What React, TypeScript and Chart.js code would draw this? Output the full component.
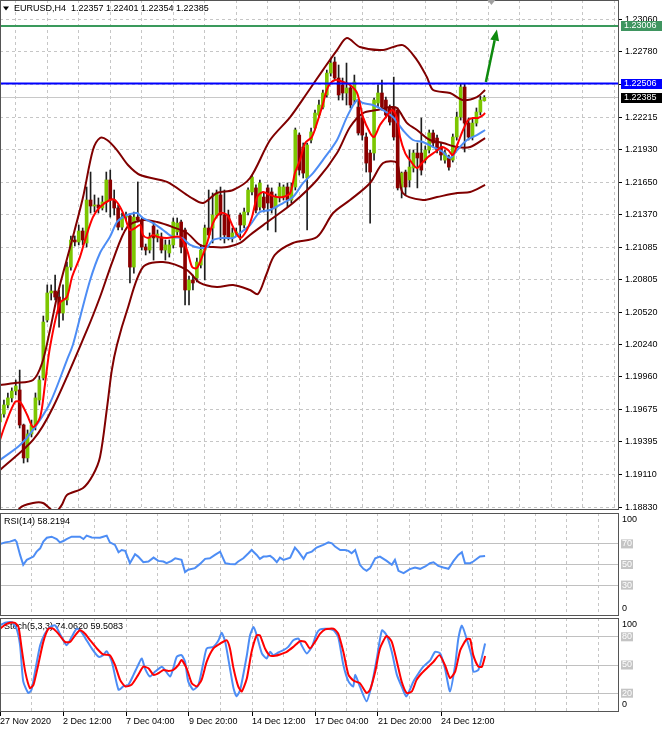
import React, { useEffect, useRef } from 'react';
import { Chart, registerables } from 'chart.js';

Chart.register(...registerables);

const FONT = '"Liberation Sans", Arial, sans-serif';
const W = 665;
const AXIS_W = 46;
const BAR_PX = 3.9375;
const X_MAX = (W - AXIS_W) / BAR_PX;

// ---------- EURUSD H4 candles ----------
const barOpen = [1.19568,1.19637,1.19716,1.19777,1.19837,1.19846,1.19542,1.19256,1.19464,1.19542,1.19759,1.19950,1.20453,1.20688,1.20705,1.20653,1.20514,1.20627,1.20913,1.21148,1.21131,1.21226,1.21122,1.21495,1.21443,1.21452,1.21426,1.21478,1.21669,1.21495,1.21426,1.21260,1.21347,1.21356,1.20913,1.21347,1.21321,1.21087,1.21061,1.21269,1.21166,1.21174,1.21061,1.21035,1.21105,1.21218,1.21304,1.21235,1.20714,1.20801,1.20818,1.20931,1.21061,1.21252,1.21252,1.21365,1.21539,1.21365,1.21365,1.21174,1.21209,1.21365,1.21278,1.21391,1.21565,1.21600,1.21434,1.21521,1.21600,1.21565,1.21426,1.21521,1.21521,1.21608,1.21495,1.21608,1.22059,1.21955,1.21686,1.22016,1.22120,1.22233,1.22302,1.22407,1.22597,1.22693,1.22554,1.22494,1.22424,1.22468,1.22363,1.22302,1.22207,1.22042,1.21903,1.21903,1.22337,1.22424,1.22363,1.22294,1.22294,1.22276,1.21608,1.21738,1.21669,1.21773,1.21903,1.21903,1.21842,1.21929,1.22077,1.22033,1.21955,1.21842,1.21860,1.21842,1.22042,1.22215,1.22476,1.22163,1.22042,1.22163,1.22259,1.22357];
const barHigh = [1.19672,1.19759,1.19820,1.19864,1.19933,1.20019,1.19550,1.19499,1.19585,1.19820,1.19967,1.20488,1.20758,1.20758,1.20844,1.20714,1.20758,1.20957,1.21183,1.21183,1.21278,1.21252,1.21608,1.21738,1.21539,1.21513,1.21530,1.21738,1.21755,1.21582,1.21452,1.21382,1.21391,1.21373,1.21391,1.21652,1.21339,1.21113,1.21209,1.21304,1.21235,1.21209,1.21148,1.21148,1.21339,1.21339,1.21321,1.21252,1.20835,1.20844,1.20992,1.21105,1.21278,1.21582,1.21556,1.21582,1.21608,1.21582,1.21408,1.21252,1.21252,1.21382,1.21426,1.21600,1.21712,1.21626,1.21669,1.21556,1.21626,1.21600,1.21547,1.21643,1.21626,1.21643,1.21643,1.22120,1.22077,1.21990,1.21990,1.22120,1.22276,1.22363,1.22450,1.22623,1.22728,1.22736,1.22667,1.22554,1.22684,1.22494,1.22580,1.22363,1.22233,1.22077,1.21929,1.22381,1.22494,1.22537,1.22389,1.22320,1.22562,1.22294,1.21738,1.21755,1.21929,1.21929,1.21990,1.22207,1.21964,1.22103,1.22103,1.22059,1.21990,1.21929,1.21886,1.22068,1.22259,1.22502,1.22502,1.22207,1.22207,1.22294,1.22398,1.22401];
const barLow = [1.19533,1.19611,1.19690,1.19742,1.19803,1.19516,1.19212,1.19221,1.19438,1.19499,1.19716,1.19933,1.20436,1.20627,1.20627,1.20392,1.20453,1.20584,1.20887,1.21096,1.21105,1.21105,1.21087,1.21382,1.21391,1.21382,1.21408,1.21391,1.21347,1.21365,1.21235,1.21235,1.21321,1.20775,1.20861,1.21304,1.21061,1.21018,1.21035,1.20974,1.21131,1.21035,1.20974,1.21000,1.21079,1.21192,1.21035,1.20584,1.20584,1.20714,1.20784,1.20905,1.20801,1.21166,1.21122,1.21339,1.21148,1.21122,1.21148,1.21131,1.21183,1.21148,1.21252,1.21365,1.21539,1.21382,1.21408,1.21391,1.21235,1.21382,1.21218,1.21478,1.21495,1.21434,1.21469,1.21582,1.21712,1.21686,1.21235,1.21990,1.22103,1.22215,1.22285,1.22389,1.22571,1.22537,1.22363,1.22363,1.22320,1.22294,1.22337,1.22059,1.22016,1.21738,1.21295,1.21842,1.22302,1.22276,1.22207,1.22146,1.22016,1.21582,1.21513,1.21539,1.21608,1.21738,1.21600,1.21712,1.21816,1.21903,1.21955,1.21903,1.21842,1.21816,1.21755,1.21825,1.22016,1.22189,1.21912,1.22016,1.22016,1.22137,1.22233,1.22354];
const barClose = [1.19637,1.19716,1.19777,1.19837,1.19881,1.19542,1.19256,1.19464,1.19542,1.19777,1.19933,1.20436,1.20688,1.20705,1.20653,1.20514,1.20627,1.20913,1.21148,1.21131,1.21226,1.21148,1.21495,1.21443,1.21452,1.21426,1.21478,1.21669,1.21495,1.21426,1.21260,1.21347,1.21356,1.20913,1.21347,1.21321,1.21087,1.21061,1.21174,1.21166,1.21200,1.21061,1.21105,1.21105,1.21304,1.21295,1.21087,1.20714,1.20801,1.20775,1.20957,1.21061,1.21252,1.21192,1.21365,1.21556,1.21365,1.21192,1.21174,1.21209,1.21218,1.21278,1.21391,1.21582,1.21694,1.21408,1.21643,1.21426,1.21469,1.21426,1.21521,1.21608,1.21608,1.21495,1.21608,1.22103,1.21755,1.21729,1.21973,1.22086,1.22250,1.22320,1.22424,1.22597,1.22684,1.22554,1.22407,1.22424,1.22468,1.22320,1.22520,1.22077,1.22059,1.21816,1.21738,1.22363,1.22424,1.22302,1.22233,1.22172,1.22042,1.21600,1.21729,1.21608,1.21781,1.21903,1.21860,1.21755,1.21929,1.22077,1.21990,1.21929,1.21886,1.21903,1.21781,1.22042,1.22215,1.22476,1.22163,1.22042,1.22163,1.22259,1.22363,1.22385];

// ---------- indicator lines (bar index, price) ----------
const redMaX = [0,1.3,3.8,5.1,6.9,8.4,10.2,11.4,12.7,15.2,17.0,18.3,20.3,21.6,23.6,25.4,27.9,29.2,30.5,31.7,33.0,34.3,35.6,36.3,37.6,38.9,40.1,42.4,45.7,47.5,48.8,50.0,51.3,52.6,54.1,55.9,57.7,59.2,61.0,62.7,64.0,65.3,66.8,68.6,70.3,71.9,73.7,74.9,76.2,77.5,79.2,80.5,81.8,83.3,85.1,87.1,88.9,90.7,92.2,94.0,95.0,96.5,98.0,99.6,100.8,101.6,102.9,104.1,105.9,107.2,108.7,110.5,112.3,113.8,115.0,116.3,117.6,118.9,120.1,121.4,122.7,123.2];
const redMaY = [1.19412,1.19542,1.19742,1.19742,1.19629,1.19525,1.19611,1.19889,1.20219,1.20601,1.20653,1.20827,1.21000,1.21148,1.21347,1.21434,1.21495,1.21495,1.21434,1.21347,1.21235,1.21252,1.21278,1.21192,1.21166,1.21192,1.21174,1.21166,1.21174,1.21061,1.20913,1.20905,1.21000,1.21122,1.21295,1.21382,1.21365,1.21260,1.21166,1.21235,1.21347,1.21521,1.21565,1.21539,1.21521,1.21521,1.21556,1.21729,1.21842,1.21990,1.22042,1.22163,1.22302,1.22476,1.22537,1.22520,1.22494,1.22424,1.22215,1.22077,1.22042,1.22146,1.22215,1.22276,1.22207,1.22042,1.21903,1.21842,1.21773,1.21816,1.21868,1.21912,1.21955,1.21929,1.21886,1.21990,1.22103,1.22189,1.22207,1.22207,1.22233,1.22250];
const blueMaX = [0,5.1,8.4,12.7,17.0,18.5,20.3,22.9,25.4,27.9,29.7,31.2,33.0,34.8,36.3,38.9,41.4,43.9,46.2,48.3,50.8,52.6,54.1,56.6,59.2,61.0,63.5,66.0,68.6,71.9,74.4,77.0,79.5,82.0,85.6,88.1,90.7,92.2,94.7,97.3,99.8,102.3,104.9,107.4,110.0,112.5,114.3,116.1,118.6,121.1,123.2];
const blueMaY = [1.19238,1.19368,1.19499,1.19733,1.20106,1.20237,1.20471,1.20801,1.21035,1.21174,1.21304,1.21347,1.21373,1.21382,1.21339,1.21295,1.21235,1.21174,1.21166,1.21105,1.21079,1.21087,1.21148,1.21166,1.21166,1.21209,1.21278,1.21391,1.21408,1.21469,1.21521,1.21643,1.21729,1.21842,1.22016,1.22215,1.22363,1.22337,1.22320,1.22276,1.22215,1.22103,1.22016,1.21999,1.21955,1.21912,1.21860,1.21929,1.22016,1.22059,1.22103];
const bbUpX = [0,3.8,8.4,10.7,12.7,14.7,18.3,21.1,23.6,25.4,27.2,29.7,32.5,35.6,42.4,48.3,51.6,55.1,59.2,63.5,68.6,73.7,78.0,82.0,85.6,88.1,91.4,97.3,102.3,105.9,108.4,110.0,114.3,117.6,121.1,123.2];
const bbUpY = [1.19889,1.19906,1.19933,1.20080,1.20367,1.20688,1.21148,1.21521,1.21929,1.22033,1.22016,1.21929,1.21799,1.21712,1.21652,1.21521,1.21469,1.21556,1.21582,1.21686,1.22016,1.22215,1.22424,1.22623,1.22797,1.22901,1.22823,1.22797,1.22840,1.22710,1.22563,1.22450,1.22424,1.22363,1.22389,1.22450];
const bbMidX = [0,8.4,13.5,22.1,25.4,28.7,32.3,36.3,39.9,43.9,47.5,50.8,54.1,57.7,61.0,63.5,68.6,74.4,80.5,85.6,88.9,92.2,95.7,99.0,100.8,103.4,105.9,109.2,112.5,116.1,119.4,123.2];
const bbMidY = [1.19151,1.19412,1.19698,1.20367,1.20653,1.20974,1.21260,1.21321,1.21304,1.21260,1.21209,1.21105,1.21087,1.21087,1.21122,1.21192,1.21321,1.21469,1.21669,1.21903,1.22129,1.22250,1.22276,1.22302,1.22294,1.22163,1.22103,1.22016,1.21990,1.21955,1.21955,1.22033];
const bbLowX = [0,5.1,8.4,10.9,14.0,15.7,17.0,21.1,23.6,25.4,27.2,28.4,29.7,32.3,36.3,41.4,47.5,50.8,55.1,59.2,63.5,65.5,67.6,69.8,74.4,80.5,84.6,88.9,94.0,97.3,100.8,102.3,107.4,111.0,116.1,119.4,123.2];
const bbLowY = [1.18544,1.18822,1.18865,1.18865,1.18787,1.18848,1.18934,1.18995,1.19108,1.19264,1.19698,1.20019,1.20237,1.20540,1.20913,1.20957,1.20887,1.20775,1.20740,1.20758,1.20714,1.20679,1.20844,1.21018,1.21122,1.21174,1.21382,1.21495,1.21643,1.21816,1.21816,1.21556,1.21495,1.21521,1.21556,1.21565,1.21626];

// ---------- levels & arrow ----------
const greenLevel = 1.23006;
const blueLevel = 1.22506;
const arrowX = [123.4, 126.2];
const arrowY = [1.22519, 1.22975];

// ---------- RSI(14) ----------
const rsiX = [0,1.3,2.5,3.8,4.2,5.1,5.9,6.8,8.5,9.3,10.2,11.0,11.9,13.1,14.4,15.2,16.1,16.9,18.2,20.3,21.2,22.0,23.3,25.4,26.2,27.1,27.9,29.2,30.1,30.9,31.8,33.0,34.3,35.1,36.4,37.7,39.0,40.2,41.5,42.3,43.6,44.5,46.1,47.0,47.8,49.5,50.8,52.1,53.3,54.6,55.9,57.2,58.4,59.7,60.5,61.8,63.1,63.9,65.2,66.0,66.9,67.7,68.6,69.4,70.3,71.1,72.0,73.7,74.9,75.8,77.1,77.9,79.2,80.4,82.1,83.4,84.3,85.1,86.4,87.6,88.5,89.3,90.2,91.4,92.3,93.1,94.0,95.3,96.5,98.2,99.5,100.3,101.2,102.5,104.1,105.4,106.7,108.0,109.2,110.1,111.3,112.6,113.9,115.2,116.4,117.3,118.1,119.4,120.2,121.9,123.2];
const rsiY = [69.9,71.5,72.2,73.8,72.2,59.3,49.7,54.5,57.7,62.5,65.7,72.2,76.0,77.0,74.7,71.5,72.8,74.7,77.0,77.0,74.7,78.0,76.3,76.0,77.0,78.0,71.5,69.0,61.9,64.1,63.2,51.3,59.9,57.7,52.2,52.9,56.7,53.5,52.9,51.3,53.5,56.1,54.5,42.6,44.9,46.5,50.6,55.5,56.1,59.3,62.5,51.3,50.6,50.3,52.9,56.1,60.9,64.1,59.3,55.5,57.7,57.7,58.4,56.1,52.2,56.7,54.5,56.7,66.4,62.5,55.5,60.9,62.5,66.4,69.0,71.5,70.6,67.4,64.1,64.1,63.2,60.9,64.1,49.7,45.8,43.9,46.5,56.1,57.7,53.5,49.7,54.5,43.9,41.6,45.5,47.1,45.8,48.1,51.3,52.2,48.7,47.1,45.8,53.5,59.3,61.9,51.3,51.3,52.9,57.7,58.2];
const rsiLevels = [30, 50, 70];
const rsiTitle = 'RSI(14) 58.2194';

// ---------- Stochastic (5,3,3) ----------
const stochKX = [0,1.3,3.0,4.2,5.1,5.9,7.2,8.0,8.9,10.2,11.4,12.7,14.0,15.2,16.9,18.2,19.5,20.7,22.0,23.3,25.0,26.2,27.1,28.4,30.1,31.3,32.6,33.9,35.1,36.0,36.8,38.1,39.4,41.1,41.9,43.2,44.0,44.9,46.1,47.0,47.8,49.1,50.4,51.7,52.5,54.2,55.5,56.3,57.2,58.4,59.3,60.1,61.0,62.7,63.5,64.4,65.2,66.5,67.7,68.6,69.4,70.7,72.0,73.2,74.5,75.8,76.6,77.9,79.2,80.4,81.3,83.0,84.7,85.9,87.2,88.5,89.7,90.2,91.4,93.1,94.4,95.7,97.0,98.2,99.5,100.8,102.0,103.2,105.0,106.3,107.5,109.3,110.5,111.8,113.0,114.3,115.6,116.4,117.3,118.5,119.8,120.2,121.5,123.2];
const stochKY = [92.1,94.9,95.6,88.6,71.0,32.5,20.2,23.7,43.0,71.0,83.3,90.4,92.1,83.3,71.0,79.8,88.6,85.1,76.3,67.6,58.8,60.5,64.7,53.5,23.7,27.2,28.9,39.5,50.0,57.0,46.5,37.7,43.0,48.2,44.7,37.7,46.5,58.8,60.5,53.5,32.5,23.7,28.9,53.5,67.6,69.3,76.3,84.4,74.6,46.5,25.4,16.6,23.7,60.5,81.6,90.4,81.6,62.3,57.0,64.0,60.5,63.3,65.8,69.3,76.3,78.1,71.0,62.3,69.3,83.3,87.9,88.6,86.9,79.8,50.0,32.5,27.2,39.5,27.2,11.4,28.9,57.0,86.9,81.6,64.0,39.5,27.2,16.6,32.5,41.2,48.2,55.3,64.0,62.3,46.5,21.9,50.0,78.1,92.1,78.1,58.8,43.0,44.7,72.8];
const stochDX = [0,1.3,2.5,3.8,4.7,5.5,6.4,7.6,8.5,9.7,11.0,12.3,13.5,14.8,16.5,17.8,19.1,20.3,21.6,22.9,24.6,26.2,27.9,29.2,30.5,31.8,33.4,35.1,36.4,37.7,39.0,40.2,41.5,42.8,44.0,45.3,46.1,47.4,48.7,50.0,51.2,52.5,54.2,55.9,57.6,58.4,59.3,60.5,61.4,62.7,63.9,65.2,66.0,67.3,68.6,69.9,71.1,72.8,74.5,76.2,77.5,78.7,80.0,81.3,82.6,84.7,85.9,87.2,88.5,89.8,91.4,93.1,94.0,95.3,96.5,98.2,99.5,100.8,102.0,103.3,104.6,105.8,107.1,108.8,110.1,111.6,113.0,114.3,115.6,116.9,118.5,119.4,120.2,121.5,122.4,123.2];
const stochDY = [88.6,92.8,94.9,94.9,90.4,67.6,43.0,25.4,28.9,50.0,74.6,88.6,88.6,83.3,74.6,74.6,81.6,86.9,83.3,76.3,67.6,61.2,60.5,50.0,34.2,27.2,28.9,39.5,48.2,46.5,39.5,41.2,44.7,43.7,44.7,50.0,55.3,46.5,30.7,27.2,34.2,53.5,67.6,72.8,76.3,67.6,46.5,27.2,21.9,36.0,64.0,81.6,81.6,67.6,59.8,59.8,61.2,64.0,69.3,75.3,74.6,67.6,74.6,83.3,87.9,88.6,83.3,64.0,39.5,33.2,30.7,20.2,23.7,43.0,67.6,80.9,74.6,53.5,32.5,20.2,21.9,34.2,41.2,48.2,53.5,60.5,50.0,36.0,43.0,65.8,77.4,77.4,60.5,48.2,48.2,59.5];
const stochLevels = [20, 50, 80];
const stochTitle = 'Stoch(5,3,3) 74.0620 59.5083';

// ---------- axes ----------
const priceTicks = [1.23060,1.22780,1.22495,1.22215,1.21930,1.21650,1.21370,1.21085,1.20805,1.20520,1.20240,1.19960,1.19675,1.19395,1.19110,1.18830];
const Y_MIN = 1.188041;
const Y_MAX = 1.232314;
const gridIdx = [0,8,16,24,32,40,48,56,64,72,80,88,96,104,112,120,128,136,144,152];
const timeLabelIdx = [0,16,32,48,64,80,96,112];
const timeLabels = ['27 Nov 2020','2 Dec 12:00','7 Dec 04:00','9 Dec 20:00','14 Dec 12:00','17 Dec 04:00','21 Dec 20:00','24 Dec 12:00'];
const symbolTitle = 'EURUSD,H4';

// ---------- styles ----------
const GRID = '#c6c6c6';
const FRAME = '#555555';
const MAROON = '#800000';
const RED = '#ff0000';
const BLUE = '#4d8df5';
const BULL = '#7cc600';
const BEAR = '#8b0000';
const WICK = '#1e1e1e';
const LEVEL_LINE = '#c0c0c0';
const LEVEL_BOX = '#c4c4c4';

const lineDs = (label: string, xs: number[], ys: number[], color: string, order: number, width = 2, tension = 0.3) => ({
  type: 'line' as const,
  label,
  data: xs.map((x, i) => ({ x, y: ys[i] })),
  borderColor: color,
  backgroundColor: color,
  borderWidth: width,
  pointRadius: 0,
  tension,
  fill: false,
  order,
});

const xScale = (withLabels: boolean): any => ({
  type: 'linear',
  min: 0,
  max: X_MAX,
  offset: false,
  afterBuildTicks: (s: any) => { s.ticks = gridIdx.map((v) => ({ value: v })); },
  afterFit: (s: any) => { s.height = withLabels ? 22 : 0; s.paddingLeft = 0; s.paddingRight = 0; },
  grid: {
    color: GRID,
    lineWidth: 1,
    drawTicks: withLabels,
    tickLength: 4,
    tickWidth: 1,
    tickColor: (c: any) => (c.tick && timeLabelIdx.includes(c.tick.value) ? '#000000' : 'rgba(0,0,0,0)'),
    tickBorderDash: [],
  },
  border: { display: false, dash: [3, 3] },
  ticks: withLabels
    ? {
        autoSkip: false,
        maxRotation: 0,
        minRotation: 0,
        align: 'start',
        padding: 0,
        font: { family: FONT, size: 9 },
        color: '#000000',
        callback: (v: any) => {
          const k = timeLabelIdx.indexOf(Number(v));
          return k >= 0 ? timeLabels[k] : '';
        },
      }
    : { display: false },
});

const levelScale = (levels: number[]): any => ({
  type: 'linear',
  position: 'right',
  min: 0,
  max: 100,
  afterBuildTicks: (s: any) => { s.ticks = [0, ...levels, 100].map((v) => ({ value: v })); },
  afterFit: (s: any) => { s.width = AXIS_W; s.paddingTop = 0; s.paddingBottom = 0; },
  ticks: {
    autoSkip: false,
    padding: 3,
    font: { family: FONT, size: 9, lineHeight: 1 },
    color: '#ffffff',
    showLabelBackdrop: (c: any) => !!(c.tick && levels.includes(c.tick.value)),
    backdropColor: LEVEL_BOX,
    backdropPadding: { top: 0, bottom: 0, left: 1, right: 1 },
    callback: (v: any) => (levels.includes(Number(v)) ? String(v) : ''),
  },
  grid: {
    color: (c: any) => (c.tick && levels.includes(c.tick.value) ? LEVEL_LINE : 'rgba(0,0,0,0)'),
    drawTicks: false,
  },
  border: { display: false },
});

const framePlugin = {
  id: 'frame',
  afterDraw(chart: any) {
    const { ctx, chartArea: a } = chart;
    ctx.save();
    ctx.strokeStyle = FRAME;
    ctx.lineWidth = 1;
    ctx.strokeRect(a.left + 0.5, a.top + 0.5, a.right - a.left - 1, a.bottom - a.top - 1);
    ctx.restore();
  },
};

const panelTextPlugin = (title: string) => ({
  id: 'panelText',
  beforeDatasetsDraw(chart: any) {
    const { ctx, chartArea: a } = chart;
    ctx.save();
    ctx.font = `9px ${FONT}`;
    ctx.fillStyle = '#000000';
    ctx.textBaseline = 'middle';
    ctx.textAlign = 'left';
    ctx.fillText(title, a.left + 4, a.top + 9);
    ctx.restore();
  },
  afterDraw(chart: any) {
    const { ctx, chartArea: a } = chart;
    const ys = chart.scales.y;
    ctx.save();
    ctx.font = `9px ${FONT}`;
    ctx.fillStyle = '#000000';
    ctx.textBaseline = 'middle';
    ctx.textAlign = 'left';
    ctx.fillText(String(ys.max), a.right + 3, a.top + 7);
    ctx.fillText(String(ys.min), a.right + 3, a.bottom - 7);
    ctx.restore();
  },
});

const mainPlugin = {
  id: 'mainDecor',
  afterDraw(chart: any) {
    const { ctx, chartArea: a } = chart;
    const xs = chart.scales.x;
    const ys = chart.scales.y;
    ctx.save();
    // arrow
    const x1 = xs.getPixelForValue(arrowX[0]);
    const y1 = ys.getPixelForValue(arrowY[0]);
    const x2 = xs.getPixelForValue(arrowX[1]);
    const y2 = ys.getPixelForValue(arrowY[1]);
    const ang = Math.atan2(y2 - y1, x2 - x1);
    const head = 11;
    const bx = x2 - head * Math.cos(ang);
    const by = y2 - head * Math.sin(ang);
    ctx.strokeStyle = '#0e8a0e';
    ctx.fillStyle = '#0e8a0e';
    ctx.lineWidth = 2.5;
    ctx.beginPath();
    ctx.moveTo(x1, y1);
    ctx.lineTo(bx, by);
    ctx.stroke();
    ctx.beginPath();
    ctx.moveTo(x2, y2);
    ctx.lineTo(bx + 4.5 * Math.sin(ang), by - 4.5 * Math.cos(ang));
    ctx.lineTo(bx - 4.5 * Math.sin(ang), by + 4.5 * Math.cos(ang));
    ctx.closePath();
    ctx.fill();
    // shift marker
    const sx = xs.getPixelForValue(124.8);
    ctx.fillStyle = '#a0a0a0';
    ctx.beginPath();
    ctx.moveTo(sx - 4, a.top);
    ctx.lineTo(sx + 4, a.top);
    ctx.lineTo(sx, a.top + 5);
    ctx.closePath();
    ctx.fill();
    // header
    ctx.fillStyle = '#000000';
    ctx.beginPath();
    ctx.moveTo(3, 6.5);
    ctx.lineTo(9, 6.5);
    ctx.lineTo(6, 10.5);
    ctx.closePath();
    ctx.fill();
    const last = barClose.length - 1;
    ctx.font = `9px ${FONT}`;
    ctx.textBaseline = 'middle';
    ctx.textAlign = 'left';
    ctx.fillText(
      `${symbolTitle}  ${barOpen[last].toFixed(5)} ${barHigh[last].toFixed(5)} ${barLow[last].toFixed(5)} ${barClose[last].toFixed(5)}`,
      14, 9
    );
    // price boxes
    const box = (v: number, bg: string) => {
      const y = Math.round(ys.getPixelForValue(v));
      ctx.fillStyle = bg;
      ctx.fillRect(a.right + 2, y - 5, 41, 10);
      ctx.fillStyle = '#ffffff';
      ctx.fillText(v.toFixed(5), a.right + 5, y);
    };
    box(greenLevel, '#3f9560');
    box(blueLevel, '#0000ff');
    box(barClose[last], '#000000');
    ctx.restore();
  },
};

export default function App() {
  const mainRef = useRef<HTMLCanvasElement>(null);
  const rsiRef = useRef<HTMLCanvasElement>(null);
  const stoRef = useRef<HTMLCanvasElement>(null);

  useEffect(() => {
    const charts: Chart[] = [];
    const common: any = {
      responsive: false,
      animation: false,
      devicePixelRatio: 1,
      events: [],
      plugins: { legend: { display: false }, tooltip: { enabled: false }, title: { display: false } },
    };

    if (mainRef.current) {
      charts.push(
        new Chart(mainRef.current, {
          type: 'line',
          data: {
            datasets: [
              lineDs('resistance', [0, X_MAX], [greenLevel, greenLevel], '#3a9a5c', 0, 2, 0),
              lineDs('level', [0, X_MAX], [blueLevel, blueLevel], '#0000ff', 0, 2, 0),
              lineDs('fast MA', redMaX, redMaY, RED, 1),
              lineDs('slow MA', blueMaX, blueMaY, BLUE, 2),
              lineDs('BB upper', bbUpX, bbUpY, MAROON, 3),
              lineDs('BB middle', bbMidX, bbMidY, MAROON, 3),
              lineDs('BB lower', bbLowX, bbLowY, MAROON, 3),
              {
                type: 'bar',
                label: 'body',
                data: barClose.map((c, i) => ({ x: i, y: [barOpen[i], c] })),
                backgroundColor: barClose.map((c, i) => (c >= barOpen[i] ? BULL : BEAR)),
                barThickness: 3,
                grouped: false,
                order: 8,
              } as any,
              {
                type: 'bar',
                label: 'wick',
                data: barHigh.map((h, i) => ({ x: i, y: [barLow[i], h] })),
                backgroundColor: WICK,
                barThickness: 1,
                grouped: false,
                order: 9,
              } as any,
              lineDs('price', [0, X_MAX], [barClose[barClose.length - 1], barClose[barClose.length - 1]], '#c8c8c8', 10, 1, 0),
            ],
          },
          options: {
            ...common,
            layout: { padding: { left: 0, right: 0, top: 0, bottom: 1 } },
            scales: {
              x: xScale(false),
              y: {
                type: 'linear',
                position: 'right',
                min: Y_MIN,
                max: Y_MAX,
                afterBuildTicks: (s: any) => { s.ticks = priceTicks.map((v) => ({ value: v })); },
                afterFit: (s: any) => { s.width = AXIS_W; s.paddingTop = 0; s.paddingBottom = 0; },
                ticks: {
                  autoSkip: false,
                  padding: 3,
                  font: { family: FONT, size: 9 },
                  color: '#000000',
                  callback: (v: any) => Number(v).toFixed(5),
                },
                grid: { color: GRID, drawTicks: true, tickLength: 3, tickColor: '#000000', tickBorderDash: [] },
                border: { display: false, dash: [3, 3] },
              },
            },
          } as any,
          plugins: [framePlugin, mainPlugin],
        } as any)
      );
    }

    if (rsiRef.current) {
      charts.push(
        new Chart(rsiRef.current, {
          type: 'line',
          data: { datasets: [lineDs('RSI', rsiX, rsiY, BLUE, 0, 2, 0)] },
          options: {
            ...common,
            layout: { padding: 0 },
            scales: { x: xScale(false), y: levelScale(rsiLevels) },
          } as any,
          plugins: [framePlugin, panelTextPlugin(rsiTitle)],
        } as any)
      );
    }

    if (stoRef.current) {
      charts.push(
        new Chart(stoRef.current, {
          type: 'line',
          data: {
            datasets: [
              lineDs('%D', stochDX, stochDY, RED, 0, 2, 0.2),
              lineDs('%K', stochKX, stochKY, BLUE, 1, 2, 0.2),
            ],
          },
          options: {
            ...common,
            layout: { padding: 0 },
            scales: { x: xScale(true), y: levelScale(stochLevels) },
          } as any,
          plugins: [framePlugin, panelTextPlugin(stochTitle)],
        } as any)
      );
    }

    return () => charts.forEach((c) => c.destroy());
  }, []);

  return (
    <div style={{ position: 'absolute', left: 0, top: 0, width: W, height: 734, background: '#ffffff', overflow: 'hidden' }}>
      <canvas ref={mainRef} width={W} height={511} style={{ position: 'absolute', left: 0, top: 0, width: W, height: 511 }} />
      <canvas ref={rsiRef} width={W} height={103} style={{ position: 'absolute', left: 0, top: 513, width: W, height: 103 }} />
      <canvas ref={stoRef} width={W} height={116} style={{ position: 'absolute', left: 0, top: 618, width: W, height: 116 }} />
    </div>
  );
}
